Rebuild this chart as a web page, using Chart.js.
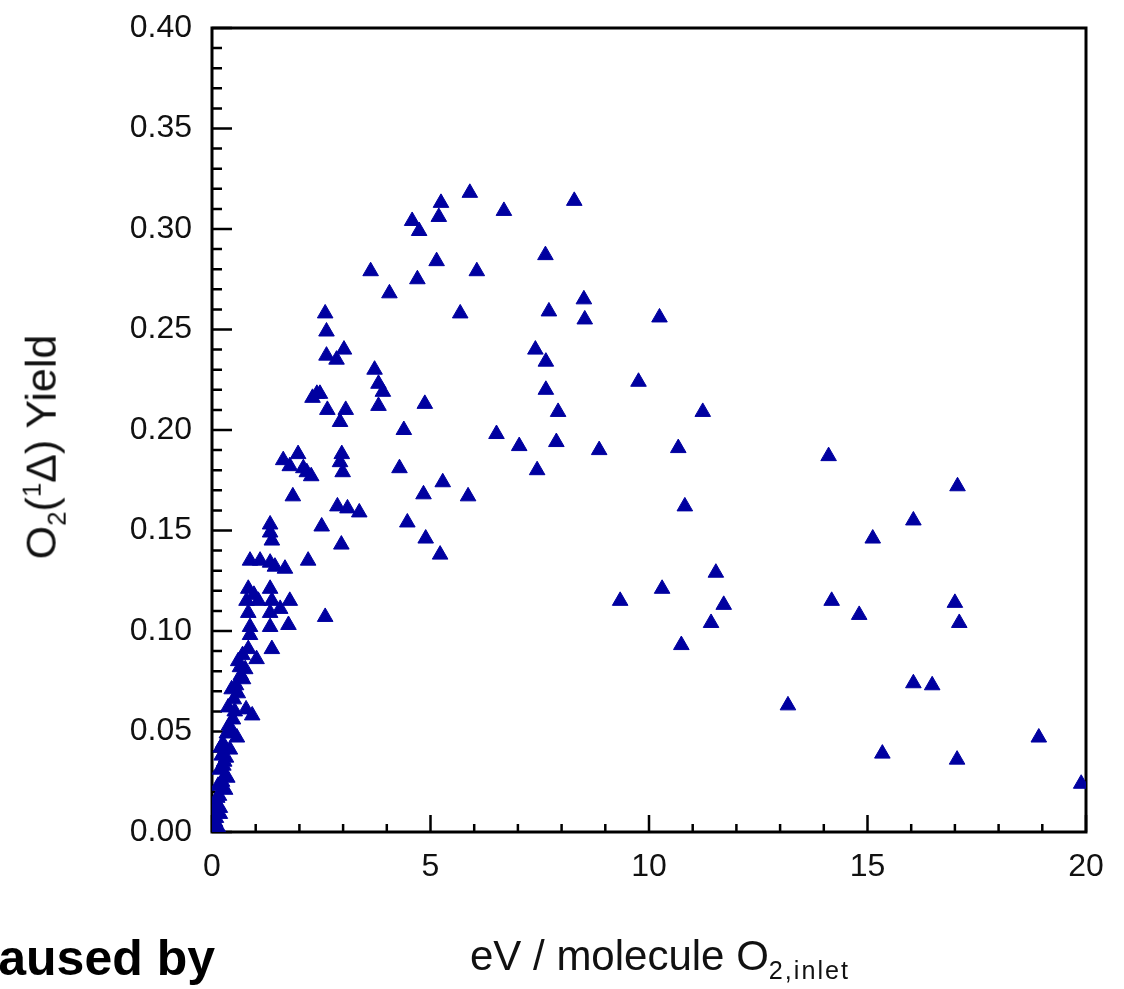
<!DOCTYPE html>
<html>
<head>
<meta charset="utf-8">
<script src="https://cdn.jsdelivr.net/npm/chart.js@4.4.0/dist/chart.umd.min.js"></script>
<style>
  body { margin: 0; background: #fff; }
  #wrap { position: relative; width: 1124px; height: 989px; overflow: hidden; }
  #wrap canvas { position: absolute; left: 0; top: 0; }
  .lbl { position: absolute; font-family: "Liberation Sans", Arial, sans-serif; color: #111; white-space: nowrap; line-height: 1; }
  .lbl sub, .lbl sup { font-size: 0.6em; }
  #xtitle { left: 470px; top: 935px; font-size: 42px; }
  #xtitle sub { letter-spacing: 2px; }
  #ytitle { left: 45px; top: 447px; font-size: 43px; transform: translate(-50%, -50%) rotate(-90deg); }
  #cut { right: 909px; top: 933px; font-size: 50px; font-weight: bold; color: #000; }
</style>
</head>
<body>
<div id="wrap">
  <canvas id="chart" width="1124" height="989"></canvas>
  <div class="lbl" id="xtitle">eV / molecule O<sub>2,inlet</sub></div>
  <div class="lbl" id="ytitle">O<sub>2</sub>(<sup>1</sup>Δ) Yield</div>
  <div class="lbl" id="cut">aused by</div>
</div>
<script>
// energy per molecule (eV) and singlet oxygen yield
const energy = [
  5.90, 5.24, 5.19, 4.58, 4.74, 6.68, 8.29, 7.63, 5.14, 6.06,
  4.70, 4.06, 8.51, 7.71, 8.53, 10.24, 5.68, 7.40, 7.64, 9.76,
  7.64, 7.92, 11.23, 4.87, 4.39, 6.51, 7.03, 7.88, 8.86, 10.67,
  4.29, 7.44, 5.28, 4.84, 5.86, 10.82, 4.47, 4.89, 5.22, 11.53,
  14.11, 17.06, 16.05, 15.12, 10.30, 9.34, 11.71, 11.42, 10.74, 14.18,
  14.81, 17.00, 17.10, 16.05, 16.48, 13.18, 18.92, 15.34, 17.05, 19.89,
  3.63, 2.59, 2.62, 2.62, 2.85, 3.02, 3.72, 3.81, 3.91, 3.81,
  2.30, 2.40, 2.47, 2.64, 3.06, 2.93, 1.63, 1.78, 1.97, 2.09,
  2.17, 2.27, 2.97, 2.93, 2.99, 1.85, 2.87, 3.10, 3.37, 2.51,
  2.96, 1.33, 1.33, 1.37, 0.87, 1.10, 1.33, 1.44, 1.67, 2.20,
  0.83, 0.96, 1.33, 0.79, 1.06, 1.37, 1.78, 1.56, 0.83, 1.33,
  0.87, 0.87, 1.33, 1.75, 2.59, 0.83, 1.02, 1.37, 0.60, 0.64,
  0.76, 0.71, 0.55, 0.45, 0.59, 0.50, 0.37, 0.78, 0.92, 0.48,
  0.39, 0.34, 0.57, 0.25, 0.41, 0.32, 0.22, 0.18, 0.30, 0.23,
  0.14, 0.30, 0.16, 0.11, 0.18, 0.05, 0.18, 0.07, 0.14, 0.02,
  0.26, 0.20, 0.66, 0.52, 0.43, 0.28, 0.12, 0.09, 0.35, 0.70
];
const yieldO2 = [
  0.318, 0.313, 0.306, 0.304, 0.299, 0.309, 0.314, 0.287, 0.284, 0.279,
  0.275, 0.268, 0.265, 0.259, 0.255, 0.256, 0.258, 0.240, 0.234, 0.224,
  0.220, 0.209, 0.209, 0.213, 0.200, 0.198, 0.192, 0.194, 0.190, 0.191,
  0.181, 0.180, 0.174, 0.168, 0.167, 0.162, 0.154, 0.146, 0.138, 0.129,
  0.187, 0.172, 0.155, 0.146, 0.121, 0.115, 0.113, 0.104, 0.093, 0.115,
  0.108, 0.114, 0.104, 0.074, 0.073, 0.063, 0.047, 0.039, 0.036, 0.024,
  0.279, 0.258, 0.249, 0.237, 0.235, 0.240, 0.230, 0.223, 0.219, 0.212,
  0.216, 0.218, 0.218, 0.210, 0.210, 0.204, 0.185, 0.182, 0.188, 0.181,
  0.179, 0.177, 0.188, 0.184, 0.179, 0.167, 0.162, 0.161, 0.159, 0.152,
  0.143, 0.153, 0.149, 0.145, 0.135, 0.135, 0.134, 0.132, 0.131, 0.135,
  0.121, 0.118, 0.121, 0.115, 0.115, 0.115, 0.115, 0.111, 0.109, 0.109,
  0.102, 0.098, 0.102, 0.103, 0.107, 0.091, 0.086, 0.091, 0.085, 0.082,
  0.081, 0.076, 0.073, 0.071, 0.069, 0.066, 0.062, 0.061, 0.058, 0.056,
  0.053, 0.049, 0.047, 0.044, 0.041, 0.037, 0.038, 0.031, 0.028, 0.025,
  0.023, 0.021, 0.018, 0.014, 0.012, 0.010, 0.009, 0.005, 0.002, 0.001,
  0.033, 0.042, 0.078, 0.060, 0.050, 0.035, 0.017, 0.007, 0.027, 0.088
];
const xTickLabels = [0, 5, 10, 15, 20];
const yTickLabels = [0, 0.05, 0.10, 0.15, 0.20, 0.25, 0.30, 0.35, 0.40];

const points = energy.map((x, i) => ({ x, y: yieldO2[i] }));

// frame + inward major/minor ticks like the original plot
const frameTicks = {
  id: "frameTicks",
  beforeDatasetsDraw(chart) {
    const { ctx, chartArea: a, scales } = chart;
    ctx.save();
    ctx.strokeStyle = "#000";
    ctx.lineWidth = 2.5;
    ctx.beginPath();
    for (let v = 0; v <= 20; v++) {
      const px = scales.x.getPixelForValue(v);
      const len = v % 5 === 0 ? 17 : 8;
      ctx.moveTo(px, a.bottom);
      ctx.lineTo(px, a.bottom - len);
    }
    for (let i = 0; i <= 40; i++) {
      const py = scales.y.getPixelForValue(i / 100);
      const len = i % 5 === 0 ? 20 : 10;
      ctx.moveTo(a.left, py);
      ctx.lineTo(a.left + len, py);
    }
    ctx.stroke();
    ctx.lineWidth = 3;
    ctx.strokeRect(a.left, a.top, a.right - a.left, a.bottom - a.top);
    ctx.restore();
  },
};

const tickFont = { family: "'Liberation Sans', Arial, sans-serif", size: 32 };

new Chart(document.getElementById("chart"), {
  type: "scatter",
  data: {
    datasets: [
      {
        data: points,
        pointStyle: "triangle",
        pointRadius: 9,
        pointBorderWidth: 1,
        backgroundColor: "#0000a0",
        borderColor: "#0000a0",
      },
    ],
  },
  options: {
    responsive: false,
    animation: false,
    layout: { padding: { top: 28, right: 38, left: 0, bottom: 0 } },
    plugins: { legend: { display: false }, tooltip: { enabled: false } },
    scales: {
      x: {
        type: "linear",
        min: 0,
        max: 20,
        afterFit: (axis) => {
          axis.height = 157;
          axis.paddingLeft = 0;
          axis.paddingRight = 0;
        },
        afterBuildTicks: (axis) => { axis.ticks = xTickLabels.map((v) => ({ value: v })); },
        grid: { display: false, drawTicks: false },
        border: { display: false },
        ticks: { color: "#111", font: tickFont, padding: 16, maxRotation: 0, callback: (v) => String(v) },
      },
      y: {
        type: "linear",
        min: 0,
        max: 0.4,
        afterFit: (axis) => {
          axis.width = 212;
          axis.paddingTop = 0;
          axis.paddingBottom = 0;
        },
        afterBuildTicks: (axis) => { axis.ticks = yTickLabels.map((v) => ({ value: v })); },
        grid: { display: false, drawTicks: false },
        border: { display: false },
        ticks: { color: "#111", font: tickFont, padding: 20, callback: (v) => v.toFixed(2) },
      },
    },
  },
  plugins: [frameTicks],
});
</script>
</body>
</html>
